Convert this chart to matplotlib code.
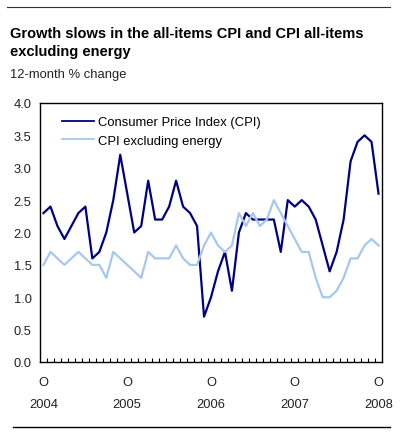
import matplotlib
matplotlib.use('Agg')
import matplotlib.pyplot as plt
from matplotlib.lines import Line2D
import numpy as np

plt.rcParams['font.family'] = ['Liberation Sans', 'DejaVu Sans']

# monthly, Oct 2004 .. Oct 2008
cpi = [2.3, 2.4, 2.1, 1.9, 2.1, 2.3, 2.4, 1.6, 1.7, 2.0, 2.5, 3.2,
       2.6, 2.0, 2.1, 2.8, 2.2, 2.2, 2.4, 2.8, 2.4, 2.3, 2.1, 0.7,
       1.0, 1.4, 1.7, 1.1, 2.0, 2.3, 2.2, 2.2, 2.2, 2.2, 1.7, 2.5,
       2.4, 2.5, 2.4, 2.2, 1.8, 1.4, 1.7, 2.2, 3.1, 3.4, 3.5, 3.4,
       2.6]
cpi_ex_energy = [1.5, 1.7, 1.6, 1.5, 1.6, 1.7, 1.6, 1.5, 1.5, 1.3, 1.7, 1.6,
                 1.5, 1.4, 1.3, 1.7, 1.6, 1.6, 1.6, 1.8, 1.6, 1.5, 1.5, 1.8,
                 2.0, 1.8, 1.7, 1.8, 2.3, 2.1, 2.3, 2.1, 2.2, 2.5, 2.3, 2.1,
                 1.9, 1.7, 1.7, 1.3, 1.0, 1.0, 1.1, 1.3, 1.6, 1.6, 1.8, 1.9,
                 1.8]
tick_pos = [0, 12, 24, 36, 48]
tick_labels = ['O', 'O', 'O', 'O', 'O']
years = ['2004', '2005', '2006', '2007', '2008']

x = np.arange(len(cpi))

fig = plt.figure(figsize=(4.01, 4.35), dpi=100)
W, H = 401, 435
ax = fig.add_axes([40 / W, 1 - 363 / H, 342 / W, 259 / H])

ax.plot(x, cpi, color='#000080', lw=1.6, label='Consumer Price Index (CPI)')
ax.plot(x, cpi_ex_energy, color='#a6c8ee', lw=1.6, label='CPI excluding energy')

ax.set_xlim(-0.5, len(cpi) - 0.5)
ax.set_ylim(0, 4)
ax.set_yticks(np.arange(0, 4.01, 0.5))
ax.set_yticklabels(['%.1f' % v for v in np.arange(0, 4.01, 0.5)], fontsize=9.3, color='#222222')
ax.tick_params(axis='y', length=0, pad=6)
ax.set_xticks(tick_pos)
ax.set_xticklabels(tick_labels, fontsize=9.3, color='#222222')
ax.set_xticks(np.arange(0.5, len(cpi) - 1, 1), minor=True)
ax.tick_params(axis='x', which='major', length=0, pad=10)
ax.tick_params(axis='x', which='minor', direction='in', length=3, width=0.8)
for s in ax.spines.values():
    s.set_linewidth(1)

for p, yr in zip(tick_pos, years):
    ax.text(p, -0.65, yr, ha='center', va='center', fontsize=9.3, color='#222222',
            transform=ax.transData, clip_on=False)

leg = ax.legend(loc='upper left', frameon=False, fontsize=9.4, handlelength=2.4,
                handletextpad=0.3, borderaxespad=0.0, labelspacing=0.5,
                bbox_to_anchor=(0.05, 0.97))
for h in leg.get_lines():
    h.set_linewidth(1.3)

fig.add_artist(Line2D([7 / W, 390 / W], [1 - 8 / H, 1 - 8 / H], color='#333333', lw=0.8))
fig.text(10 / W, 1 - 27 / H, 'Growth slows in the all-items CPI and CPI all-items\nexcluding energy',
         fontsize=10.5, fontweight='bold', va='top', ha='left', linespacing=1.35)
fig.text(10 / W, 1 - 75 / H, '12-month % change', fontsize=9.4, va='center', ha='left',
         color='#222222')
fig.add_artist(Line2D([13 / W, 390 / W], [1 - 428 / H, 1 - 428 / H], color='black', lw=1))

fig.savefig('out.png', dpi=100)
